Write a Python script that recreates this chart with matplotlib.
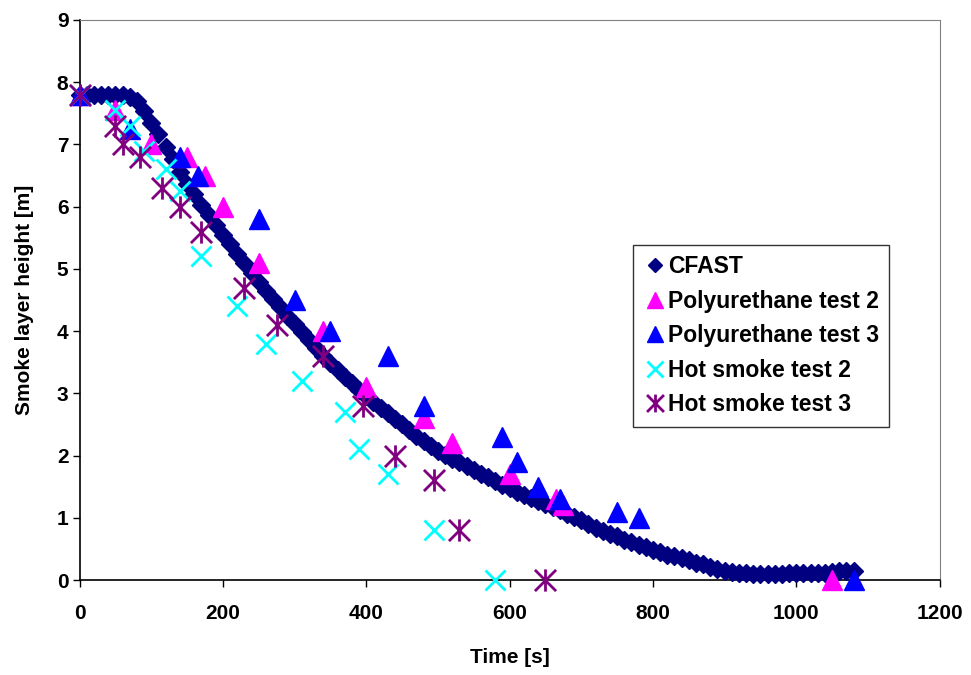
import matplotlib
matplotlib.use("Agg")
import matplotlib.pyplot as plt
from matplotlib.path import Path

plt.rcParams['font.family'] = ['Liberation Sans', 'DejaVu Sans']
plt.rcParams['font.weight'] = 'bold'

# ---------------- data ----------------
cfast_t = list(range(0, 1081, 10))
cfast_h = [7.80, 7.80, 7.80, 7.80, 7.80, 7.80, 7.80, 7.77, 7.70, 7.54,
           7.35, 7.16, 6.96, 6.76, 6.56, 6.37, 6.20, 6.03, 5.87, 5.71,
           5.55, 5.40, 5.24, 5.09, 4.94, 4.79, 4.65, 4.51, 4.38, 4.25,
           4.12, 3.99, 3.86, 3.73, 3.60, 3.49, 3.38, 3.27, 3.16, 3.05,
           2.95, 2.86, 2.77, 2.68, 2.59, 2.50, 2.41, 2.32, 2.23, 2.15,
           2.07, 2.01, 1.95, 1.89, 1.83, 1.77, 1.71, 1.65, 1.59, 1.53,
           1.48, 1.42, 1.37, 1.32, 1.27, 1.22, 1.17, 1.12, 1.06, 1.01,
           0.96, 0.90, 0.84, 0.79, 0.74, 0.70, 0.65, 0.61, 0.57, 0.53,
           0.49, 0.45, 0.41, 0.38, 0.35, 0.32, 0.28, 0.25, 0.21, 0.18,
           0.15, 0.13, 0.12, 0.11, 0.10, 0.10, 0.10, 0.10, 0.10, 0.11,
           0.11, 0.11, 0.12, 0.12, 0.12, 0.13, 0.14, 0.14, 0.15]

pu2_t = [0, 50, 100, 150, 175, 200, 250, 340, 400, 480, 520, 600, 665, 675, 1050]
pu2_h = [7.8, 7.55, 7.0, 6.8, 6.5, 6.0, 5.1, 4.0, 3.1, 2.6, 2.2, 1.7, 1.3, 1.2, 0.0]

pu3_t = [0, 70, 140, 165, 250, 300, 350, 430, 480, 590, 610, 640, 670, 750, 780, 1080]
pu3_h = [7.8, 7.25, 6.8, 6.5, 5.8, 4.5, 4.0, 3.6, 2.8, 2.3, 1.9, 1.5, 1.3, 1.1, 1.0, 0.0]

hs2_t = [0, 50, 70, 90, 120, 140, 170, 220, 260, 310, 370, 390, 430, 495, 580]
hs2_h = [7.8, 7.55, 7.3, 6.9, 6.6, 6.25, 5.2, 4.4, 3.8, 3.2, 2.7, 2.1, 1.7, 0.8, 0.0]

hs3_t = [0, 50, 60, 85, 115, 140, 170, 230, 275, 340, 395, 440, 495, 530, 650]
hs3_h = [7.8, 7.3, 7.0, 6.8, 6.3, 6.0, 5.6, 4.7, 4.1, 3.6, 2.8, 2.0, 1.6, 0.8, 0.0]

labels = ["CFAST", "Polyurethane test 2", "Polyurethane test 3",
          "Hot smoke test 2", "Hot smoke test 3"]
x_ticks = [0, 200, 400, 600, 800, 1000, 1200]
y_ticks = list(range(0, 10))

# asterisk marker: X plus vertical bar
star = Path([(-1, -1), (1, 1), (-1, 1), (1, -1), (0, -1.05), (0, 1.05)],
            [Path.MOVETO, Path.LINETO, Path.MOVETO, Path.LINETO, Path.MOVETO, Path.LINETO])

FS = 15
LFS = 16.5

fig = plt.figure(figsize=(9.71, 6.75), dpi=100)
ax = fig.add_axes([0.0819, 0.1407, 0.8857, 0.8297])

ax.plot(cfast_t, cfast_h, linestyle='none', marker='D', markersize=9,
        color='#000080', label=labels[0], clip_on=False, zorder=3)
ax.plot(pu2_t, pu2_h, linestyle='none', marker='^', markersize=14,
        color='#FF00FF', label=labels[1], clip_on=False, zorder=4)
ax.plot(pu3_t, pu3_h, linestyle='none', marker='^', markersize=14,
        color='#0000FF', label=labels[2], clip_on=False, zorder=5)
ax.plot(hs2_t, hs2_h, linestyle='none', marker='x', markersize=15,
        markeredgewidth=2.0, color='#00FFFF', label=labels[3], clip_on=False, zorder=6)
ax.plot(hs3_t, hs3_h, linestyle='none', marker=star, markersize=16,
        markeredgewidth=2.0, color='#800080', label=labels[4], clip_on=False, zorder=7)

ax.set_xlim(0, 1200)
ax.set_ylim(0, 9)
ax.set_xticks(x_ticks)
ax.set_yticks(y_ticks)
ax.tick_params(axis='both', direction='out', length=5, width=1, labelsize=FS)
ax.tick_params(axis='x', pad=12)
ax.tick_params(axis='y', pad=3)
for lab in ax.get_xticklabels() + ax.get_yticklabels():
    lab.set_fontweight('bold')

ax.set_xlabel("Time [s]", fontsize=FS, fontweight='bold', labelpad=18)
ax.set_ylabel("Smoke layer height [m]", fontsize=FS, fontweight='bold', labelpad=16)

ax.spines['left'].set_color('black')
ax.spines['bottom'].set_color('black')
ax.spines['left'].set_linewidth(1.2)
ax.spines['bottom'].set_linewidth(1.2)
ax.spines['top'].set_color('#808080')
ax.spines['right'].set_color('#808080')

leg = ax.legend(loc='upper left', bbox_to_anchor=(0.644, 0.598), frameon=True,
                fancybox=False, shadow=False, handletextpad=0.05,
                handlelength=1.0, borderpad=0.45, labelspacing=0.5,
                borderaxespad=0.0,
                prop={'weight': 'bold', 'size': LFS})
leg.get_frame().set_edgecolor('black')
leg.get_frame().set_linewidth(1.0)
for h in leg.legend_handles:
    h.set_markersize(h.get_markersize() * 0.8)

fig.savefig("out.png", dpi=100, facecolor='white')
